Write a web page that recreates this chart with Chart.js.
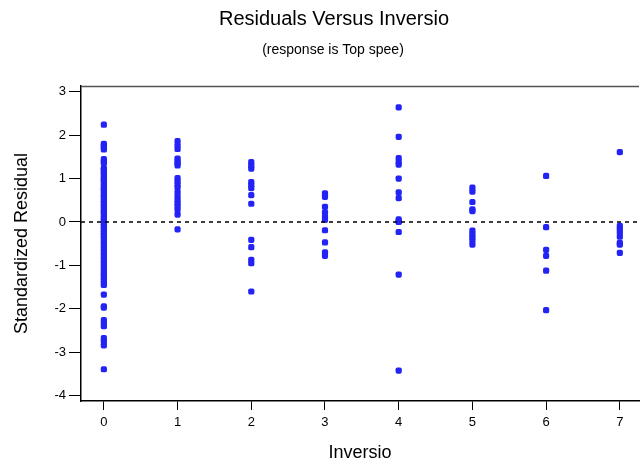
<!DOCTYPE html>
<html>
<head>
<meta charset="utf-8">
<script src="https://cdn.jsdelivr.net/npm/chart.js@4/dist/chart.umd.min.js"></script>
<style>
  body { margin: 0; background: #fff; }
  canvas { display: block; }
</style>
</head>
<body>
<canvas id="myChart" width="643" height="467"></canvas>
<script>
// valores (residuos estandarizados por numero de inversiones)
const inversiones = [0, 1, 2, 3, 4, 5, 6, 7];

const resid0 = [2.24, 1.80, 1.76, 1.72, 1.67, 1.45, 1.40, 1.36,
  1.24, 1.21, 1.17, 1.12, 1.08, 1.03, 0.98, 0.95, 0.90, 0.84, 0.79, 0.75,
  0.70, 0.64, 0.60, 0.55, 0.49, 0.45, 0.40, 0.35, 0.30, 0.25, 0.21, 0.16,
  0.10, 0.05, 0.02, -0.04, -0.08, -0.13, -0.18, -0.24, -0.29, -0.33, -0.38,
  -0.44, -0.50, -0.55, -0.61, -0.66, -0.72, -0.78, -0.84, -0.90, -0.95,
  -1.01, -1.06, -1.12, -1.18, -1.23, -1.29, -1.34, -1.40, -1.45,
  -1.67, -1.94, -1.97, -2.26, -2.33, -2.40, -2.67, -2.75, -2.84, -3.39];
const resid1 = [1.86, 1.76, 1.68, 1.46, 1.40, 1.35, 1.30, 1.01, 0.94, 0.86,
  0.79, 0.68, 0.58, 0.50, 0.43, 0.36, 0.28, 0.17, -0.17];
const resid2 = [1.38, 1.30, 1.23, 0.92, 0.85, 0.78, 0.62, 0.42,
  -0.41, -0.58, -0.87, -0.95, -1.60];
const resid3 = [0.66, 0.58, 0.35, 0.22, 0.12, 0.05, -0.19, -0.47, -0.70, -0.78];
const resid4 = [2.64, 1.96, 1.47, 1.38, 1.32, 1.00, 0.68, 0.55, 0.06, 0.02,
  0.00, -0.23, -1.21, -3.42];
const resid5 = [0.79, 0.70, 0.46, 0.29, 0.25, -0.20, -0.28, -0.35, -0.42, -0.52];
const resid6 = [1.06, -0.12, -0.64, -0.78, -1.12, -2.03];
const resid7 = [1.61, -0.09, -0.17, -0.25, -0.34, -0.48, -0.52, -0.71];

const xTicks = [0, 1, 2, 3, 4, 5, 6, 7];
const yTicks = [-4, -3, -2, -1, 0, 1, 2, 3];
const xMin = -0.31, xMax = 7.26;
const yMin = -4.12, yMax = 3.13;

const grupos = [resid0, resid1, resid2, resid3, resid4, resid5, resid6, resid7];
const puntos = grupos.flatMap((vals, i) => vals.map(v => ({ x: inversiones[i], y: v })));

const FUENTE = '"Liberation Sans", Arial, sans-serif';

const titulos = {
    id: 'titulos',
    afterDraw(chart) {
        const ctx = chart.ctx;
        const area = chart.chartArea;
        ctx.save();
        // borde superior del marco
        ctx.strokeStyle = '#555';
        ctx.lineWidth = 1.5;
        ctx.beginPath();
        ctx.moveTo(area.left, area.top + 0.5);
        ctx.lineTo(area.right, area.top + 0.5);
        ctx.stroke();

        ctx.fillStyle = '#000';
        ctx.textAlign = 'center';
        ctx.textBaseline = 'alphabetic';
        ctx.font = '20px ' + FUENTE;
        ctx.fillText('Residuals Versus Inversio', 334, 25);
        ctx.font = '14px ' + FUENTE;
        ctx.fillText('(response is Top spee)', 333, 54);
        ctx.restore();
    }
};

const config = {
    type: 'scatter',
    data: {
        datasets: [
            {
                type: 'line',
                data: [{ x: xMin, y: 0 }, { x: xMax, y: 0 }],
                borderColor: '#000',
                borderWidth: 1.3,
                borderDash: [4, 4],
                pointRadius: 0,
                fill: false
            },
            {
                data: puntos,
                backgroundColor: 'rgb(35, 35, 245)',
                borderWidth: 0,
                pointRadius: 3.6,
                pointStyle: 'rectRounded'
            }
        ]
    },
    plugins: [titulos],
    options: {
        responsive: false,
        animation: false,
        devicePixelRatio: 1,
        layout: { padding: { top: 86, left: 0, right: 0, bottom: 0 } },
        plugins: {
            legend: { display: false },
            tooltip: { enabled: false }
        },
        scales: {
            x: {
                type: 'linear',
                min: xMin,
                max: xMax,
                afterBuildTicks: s => { s.ticks = xTicks.map(v => ({ value: v })); },
                afterFit: s => { s.height = 66; },
                grid: { drawOnChartArea: false, drawTicks: true, tickLength: 9, color: '#000' },
                border: { display: true, color: '#000', width: 1.5 },
                ticks: { color: '#000', font: { family: FUENTE, size: 13 }, padding: 5, maxRotation: 0 },
                title: {
                    display: true,
                    text: 'Inversio',
                    color: '#000',
                    font: { family: FUENTE, size: 18 },
                    padding: { top: 0, bottom: 3 }
                }
            },
            y: {
                type: 'linear',
                min: yMin,
                max: yMax,
                afterBuildTicks: s => { s.ticks = yTicks.map(v => ({ value: v })); },
                afterFit: s => { s.width = 81; },
                grid: { drawOnChartArea: false, drawTicks: true, tickLength: 12, color: '#000' },
                border: { display: true, color: '#000', width: 1.5 },
                ticks: { color: '#000', font: { family: FUENTE, size: 13 }, padding: 3 },
                title: {
                    display: true,
                    text: 'Standardized Residual',
                    color: '#000',
                    font: { family: FUENTE, size: 18 },
                    padding: { top: 11, bottom: 0 }
                }
            }
        }
    }
};

new Chart(document.getElementById('myChart'), config);
</script>
</body>
</html>
